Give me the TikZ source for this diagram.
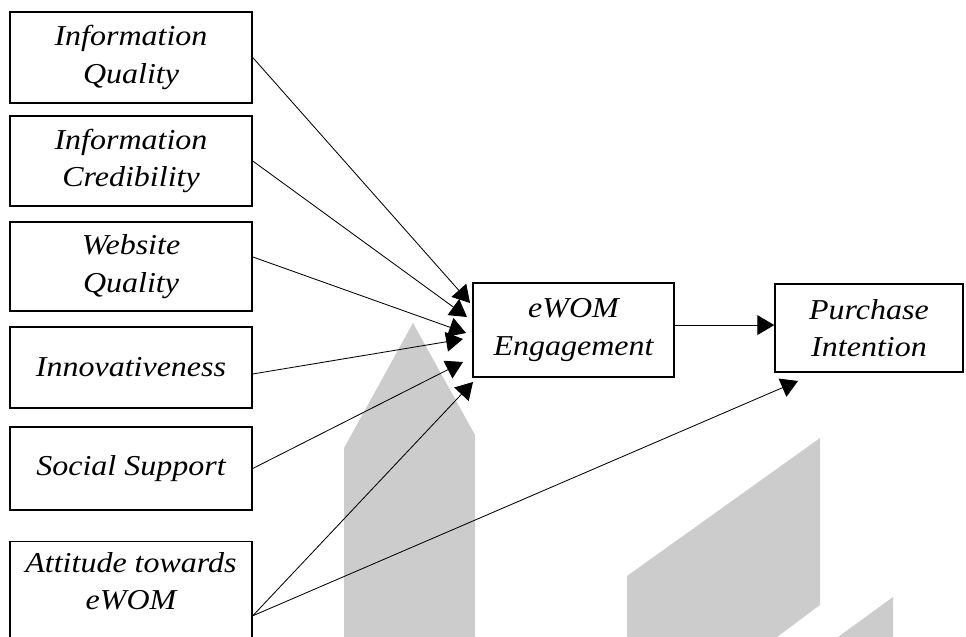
\documentclass[tikz,border=0pt]{standalone}
\usepackage{fontspec}
\setmainfont{Liberation Serif}[FakeStretch=1.11]
\usetikzlibrary{arrows.meta}
\definecolor{wmark}{gray}{0.8}
\tikzset{
    box/.style={draw, line width=1pt, align=center, inner sep=2pt,
        font=\fontsize{20.5}{26.6}\selectfont\itshape},
    conn/.style={line width=0.6pt, -{Triangle[length=12pt,width=14pt]}}
}
\begin{document}
\begin{tikzpicture}[x=0.025cm, y=-0.025cm]
        \path[use as bounding box, clip] (0,0) rectangle (966,637);

        \fill[wmark] (344,637) -- (344,448) -- (413,323) -- (475,435) -- (475,637) -- cycle;
        \fill[wmark] (627,637) -- (627,576) -- (820,438) -- (820,605) -- (777,637) -- cycle;
        \fill[wmark] (838,637) -- (893,597) -- (893,637) -- cycle;

        \node[box, minimum width=6.05cm, minimum height=2.275cm] (iq) at (131,57.5) {Information\\Quality};
        \node[box, minimum width=6.05cm, minimum height=2.25cm] (ic) at (131,161) {Information\\Credibility};
        \node[box, minimum width=6.05cm, minimum height=2.225cm] (wq) at (131,266.5) {Website\\Quality};
        \node[box, minimum width=6.05cm, minimum height=2.025cm] (inn) at (131,367.5) {Innovativeness};
        \node[box, minimum width=6.05cm, minimum height=2.075cm] (ss) at (131,468.5) {Social Support};
        \node[box, minimum width=6.05cm, inner ysep=7.5pt, anchor=north] (att) at (131,541) {Attitude towards\\eWOM\\\strut};

        \node[box, minimum width=5.025cm, minimum height=2.35cm] (eng) at (573.5,330) {eWOM\\Engagement};
        \node[box, minimum width=4.7cm, minimum height=2.2cm] (pi) at (869,328) {Purchase\\Intention};

        \coordinate (e1) at (470,303);
        \coordinate (e2) at (467,317);
        \coordinate (e3) at (466,333);
        \coordinate (e4) at (463,339);
        \coordinate (e5) at (463,362);
        \coordinate (e6) at (473,382);
        \coordinate (p1) at (798,381);

        \draw[conn] (iq.east) -- (e1);
        \draw[conn] (ic.east) -- (e2);
        \draw[conn] ([yshift=6.8pt]wq.east) -- (e3);
        \draw[conn] ([yshift=-4.6pt]inn.east) -- (e4);
        \draw[conn] (ss.east) -- (e5);
        \draw[conn] ([yshift=-7.5pt]att.east) -- (e6);
        \draw[conn] ([yshift=-7.5pt]att.east) -- (p1);
        \draw[conn] ([yshift=3.5pt]eng.east) -- ([yshift=3.5pt]eng.east -| pi.west);
\end{tikzpicture}
\end{document}
